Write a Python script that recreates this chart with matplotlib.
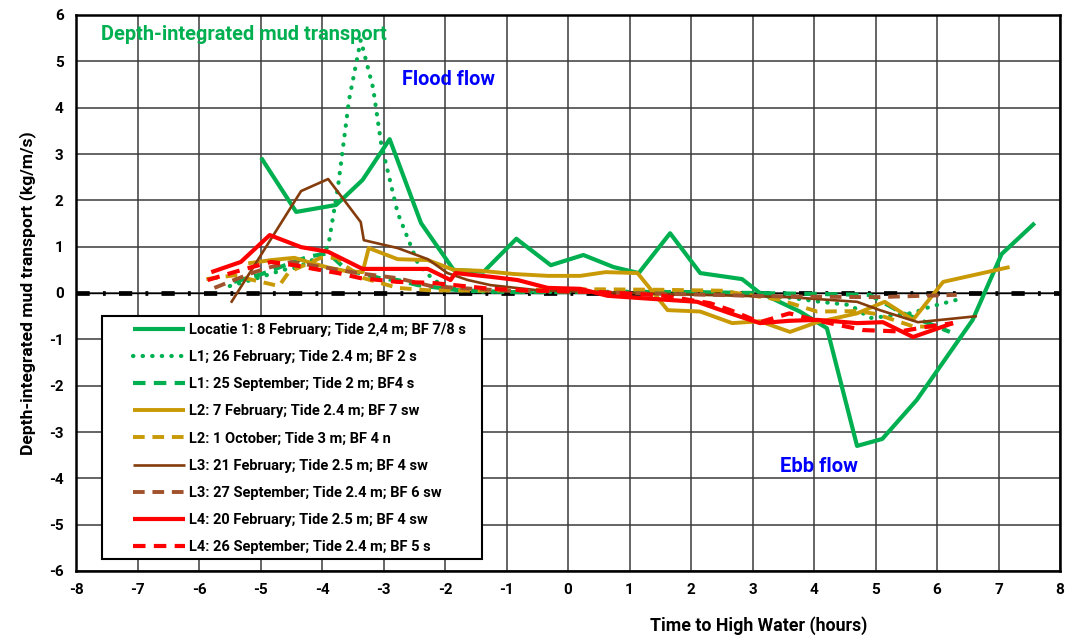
import matplotlib
matplotlib.use("Agg")
import matplotlib.pyplot as plt
from matplotlib.patches import Rectangle

plt.rcParams['font.family'] = ['Roboto', 'DejaVu Sans']
plt.rcParams['font.weight'] = 'bold'
plt.rcParams['axes.unicode_minus'] = False

# ---------------- data ----------------
l1_feb8_x = [-4.99, -4.42, -3.77, -3.34, -2.90, -2.39, -1.86, -1.37, -0.84, -0.28, 0.25, 0.74, 1.15, 1.66,
             2.15, 2.83, 3.10, 3.77, 4.21, 4.70, 5.11, 5.67, 6.58, 7.05, 7.59]
l1_feb8_y = [2.92, 1.75, 1.90, 2.44, 3.32, 1.51, 0.50, 0.46, 1.17, 0.60, 0.82, 0.56, 0.43, 1.29,
             0.43, 0.30, 0.02, -0.40, -0.76, -3.30, -3.15, -2.31, -0.58, 0.84, 1.51]

l1_feb26_x = [-5.5, -5.1, -4.63, -4.4, -4.1, -3.9, -3.74, -3.56, -3.37, -3.17, -3.04, -2.77, -2.43, -2.18,
              -1.96, -1.5, -1.0, 0.0, 1.0, 2.0, 3.0, 3.6, 4.1, 4.59, 4.91, 5.2, 5.61, 5.88, 6.37]
l1_feb26_y = [0.15, 0.3, 0.5, 0.55, 0.75, 1.0, 2.29, 4.17, 5.46, 4.43, 3.24, 1.73, 0.6, 0.28,
              0.11, 0.03, 0.02, 0.02, 0.03, 0.02, -0.05, -0.1, -0.19, -0.26, -0.54, -0.5, -0.43, -0.3, -0.13]

l1_sep25_x = [-5.43, -5.0, -4.6, -4.23, -3.9, -3.6, -3.0, -2.77, -2.44, -1.79, -1.0, 0.0, 1.0, 2.0, 3.0,
              4.0, 4.91, 5.4, 6.21]
l1_sep25_y = [0.24, 0.4, 0.6, 0.78, 0.86, 0.5, 0.3, 0.28, 0.17, 0.06, 0.02, 0.02, 0.02, 0.02, 0.0,
              -0.02, -0.04, -0.41, -0.84]

l2_feb7_x = [-5.2, -4.83, -4.45, -4.23, -3.9, -3.6, -3.34, -3.24, -2.77, -2.28, -1.86, -1.42, -0.88, -0.33,
             0.2, 0.61, 1.13, 1.62, 2.15, 2.67, 3.12, 3.61, 4.05, 4.7, 5.15, 5.61, 6.1, 7.18]
l2_feb7_y = [0.64, 0.71, 0.76, 0.67, 0.55, 0.47, 0.45, 0.97, 0.73, 0.71, 0.5, 0.48, 0.41, 0.37,
             0.37, 0.45, 0.43, -0.37, -0.4, -0.65, -0.61, -0.84, -0.63, -0.44, -0.19, -0.58, 0.24, 0.56]

l2_oct1_x = [-5.88, -5.43, -5.12, -4.7, -4.54, -4.02, -3.75, -3.64, -3.32, -2.77, -2.28, -1.5, -0.5, 0.5,
             1.5, 2.5, 3.45, 4.05, 4.7, 5.0, 5.61, 5.93]
l2_oct1_y = [0.3, 0.38, 0.28, 0.15, 0.45, 0.76, 0.76, 0.6, 0.32, 0.11, 0.06, 0.05, 0.07, 0.08,
             0.07, 0.05, -0.15, -0.4, -0.39, -0.45, -0.72, -0.73]

l3_feb21_x = [-5.48, -4.34, -3.9, -3.37, -3.32, -2.77, -2.28, -1.96, -1.63, -1.26, -0.5, 0.5, 1.5, 2.5,
              3.61, 4.7, 5.07, 5.69, 6.65]
l3_feb21_y = [-0.21, 2.2, 2.46, 1.53, 1.14, 0.97, 0.73, 0.43, 0.28, 0.17, 0.06, 0.02, -0.02, -0.05,
              -0.09, -0.19, -0.37, -0.63, -0.5]

l3_sep27_x = [-5.75, -5.43, -5.1, -4.83, -4.5, -3.86, -3.42, -2.77, -2.23, -1.79, -1.0, 0.0, 1.0, 2.0,
              3.0, 4.0, 5.0, 6.32]
l3_sep27_y = [0.11, 0.28, 0.45, 0.56, 0.67, 0.53, 0.43, 0.32, 0.15, 0.11, 0.05, 0.03, 0.0, -0.03,
              -0.06, -0.08, -0.09, -0.04]

l4_feb20_x = [-5.80, -5.32, -4.85, -4.34, -3.90, -3.34, -2.28, -1.91, -1.83, -1.26, -0.82, -0.33, 0.2, 0.64,
              1.18, 2.1, 2.64, 3.12, 3.6, 4.05, 4.7, 5.12, 5.61, 6.26]
l4_feb20_y = [0.45, 0.67, 1.25, 0.99, 0.89, 0.52, 0.52, 0.28, 0.43, 0.35, 0.28, 0.11, 0.09, -0.06,
              -0.11, -0.19, -0.44, -0.65, -0.6, -0.58, -0.65, -0.63, -0.95, -0.65]

l4_sep26_x = [-5.86, -5.3, -4.83, -4.45, -4.13, -3.74, -3.37, -2.77, -2.23, -1.7, -1.26, -0.5, 0.5, 1.5,
              2.31, 2.64, 3.12, 3.6, 4.0, 4.8, 5.4, 5.83, 6.26]
l4_sep26_y = [0.28, 0.5, 0.67, 0.6, 0.52, 0.43, 0.32, 0.24, 0.22, 0.15, 0.09, 0.05, 0.02, -0.05,
              -0.22, -0.37, -0.63, -0.44, -0.58, -0.8, -0.83, -0.73, -0.65]

labels = [
    "Locatie 1: 8 February; Tide 2,4 m; BF 7/8 s",
    "L1; 26 February; Tide 2.4 m; BF 2 s",
    "L1: 25 September; Tide 2 m; BF4 s",
    "L2: 7 February; Tide 2.4 m; BF 7 sw",
    "L2: 1 October; Tide 3 m; BF 4 n",
    "L3: 21 February; Tide 2.5 m; BF 4 sw",
    "L3: 27 September; Tide 2.4 m; BF 6 sw",
    "L4: 20 February; Tide 2.5 m; BF 4 sw",
    "L4: 26 September; Tide 2.4 m; BF 5 s",
]

x_ticks = list(range(-8, 9))
y_ticks = list(range(-6, 7))

GREEN = '#00B050'
GOLD = '#C99A06'
BROWN = '#843C0C'
BROWN2 = '#A0522D'
RED = '#FF0000'

W, H = 1075, 636
fig = plt.figure(figsize=(W / 100, H / 100), dpi=100)
ax = fig.add_axes([76 / W, 1 - 571 / H, 984 / W, 556 / H])

ax.set_xlim(-8, 8)
ax.set_ylim(-6, 6)
ax.set_xticks(x_ticks)
ax.set_yticks(y_ticks)
ax.grid(True, color='#3a3a3a', linewidth=1.1)
ax.set_axisbelow(True)

# zero line
ax.axhline(0, color='black', lw=1.0, zorder=2)
ax.plot([-8, 8], [0, 0], color='black', lw=3.4, linestyle=(0, (2.8, 2.8, 0.6, 2.8)), zorder=2)

DOT = (0, (0.1, 2.2))
series = [
    (l1_feb8_x, l1_feb8_y, GREEN, '-', 3.0),
    (l1_feb26_x, l1_feb26_y, GREEN, DOT, 3.0),
    (l1_sep25_x, l1_sep25_y, GREEN, (0, (3, 2)), 3.0),
    (l2_feb7_x, l2_feb7_y, GOLD, '-', 2.8),
    (l2_oct1_x, l2_oct1_y, GOLD, (0, (3, 2)), 2.8),
    (l3_feb21_x, l3_feb21_y, BROWN, '-', 1.9),
    (l3_sep27_x, l3_sep27_y, BROWN2, (0, (3, 2)), 2.8),
    (l4_feb20_x, l4_feb20_y, RED, '-', 3.0),
    (l4_sep26_x, l4_sep26_y, RED, (0, (3, 2)), 3.0),
]
handles = []
for (xs, ys, c, ls, lw), lab in zip(series, labels):
    ln, = ax.plot(xs, ys, color=c, linestyle=ls, lw=lw, label=lab, zorder=3,
                  dash_capstyle='round' if ls == DOT else 'butt', solid_capstyle='butt')
    handles.append(ln)

for s in ax.spines.values():
    s.set_linewidth(1.8)
    s.set_color('black')

ax.tick_params(axis='both', length=0, labelsize=11, pad=9)
for t in ax.get_xticklabels() + ax.get_yticklabels():
    t.set_fontweight('bold')

ax.set_ylabel('Depth-integrated mud transport (kg/m/s)', fontsize=12.6, fontweight='bold', labelpad=9)
fig.text(759 / W, 1 - 626 / H, 'Time to High Water (hours)', fontsize=12.8, fontweight='bold',
         ha='center', va='center')

ax.text(-7.6, 5.58, 'Depth-integrated mud transport', color=GREEN, fontsize=14.4, fontweight='bold',
        ha='left', va='center')
ax.text(-2.7, 4.6, 'Flood flow', color='#0000FF', fontsize=14.3, fontweight='bold', ha='left', va='center')
ax.text(3.45, -3.75, 'Ebb flow', color='#0000FF', fontsize=14.5, fontweight='bold', ha='left', va='center')

# legend box (frame drawn separately to match the wide left margin)
box = Rectangle((102 / W, 1 - 559 / H), (482 - 102) / W, (559 - 316) / H,
                transform=fig.transFigure, facecolor='white', edgecolor='black',
                linewidth=1.5, zorder=4, clip_on=False)
ax.add_patch(box)
leg = ax.legend(handles=handles, loc='upper left', bbox_to_anchor=(133 / W, 1 - 323 / H),
                bbox_transform=fig.transFigure,
                fontsize=10.5, frameon=False, handlelength=3.55, labelspacing=0.9,
                borderpad=0.0, handletextpad=0.28, borderaxespad=0)
leg.set_zorder(5)
for t in leg.get_texts():
    t.set_fontweight('bold')

fig.savefig('out.png', dpi=100)
